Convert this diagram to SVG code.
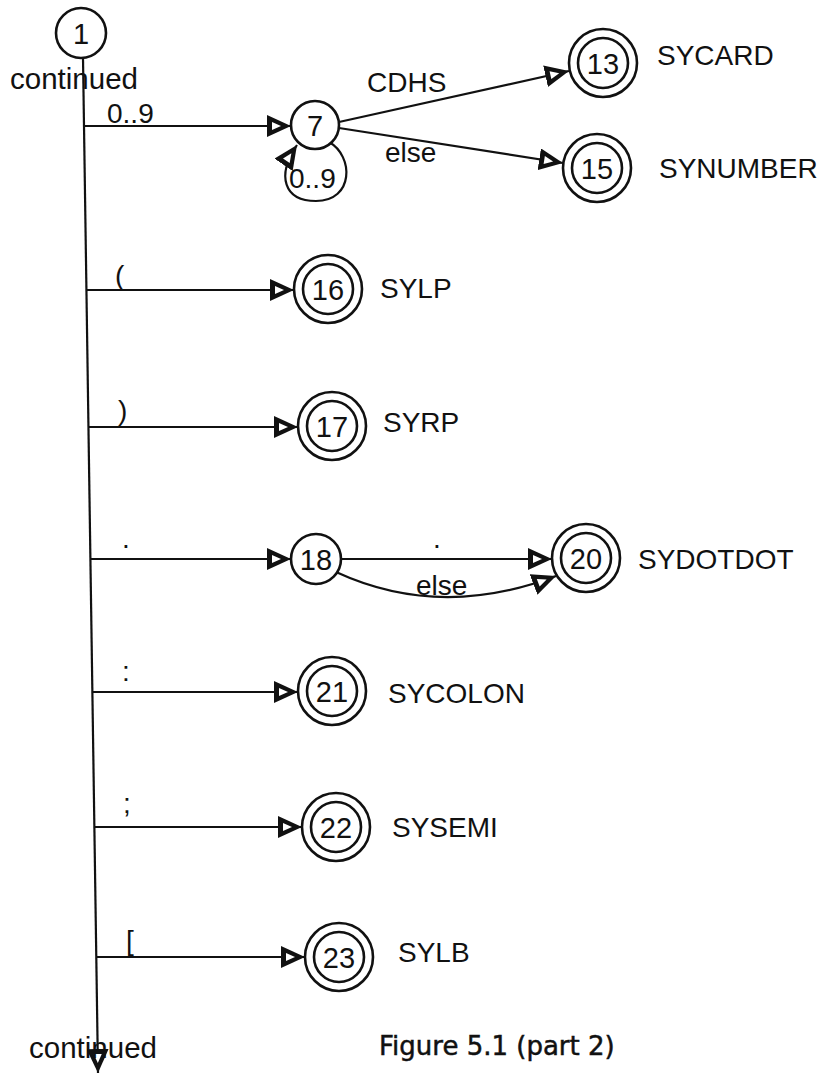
<svg xmlns="http://www.w3.org/2000/svg" width="823" height="1074" viewBox="0 0 823 1074">
<style>
.t{font-family:"Liberation Sans",Arial,sans-serif;font-size:28px;fill:#111}
.n{font-family:"Liberation Sans",Arial,sans-serif;font-size:29px;fill:#111;text-anchor:middle;dominant-baseline:central}
.c{fill:#fff;stroke:#111;stroke-width:2.6}
.e{fill:none;stroke:#111;stroke-width:2.2}
.cap{font-family:"DejaVu Sans",sans-serif;font-size:26px;fill:#111;stroke:#111;stroke-width:0.5}
</style>
<defs>
<marker id="arr" viewBox="0 0 24 22" refX="24" refY="11" markerWidth="24" markerHeight="22" markerUnits="userSpaceOnUse" orient="auto">
<path d="M0,0 L24,11 L0,22 Z" fill="#111"/>
<path d="M5,7 L14,11 L5,15 Z" fill="#fff"/>
</marker>
</defs>
<rect width="823" height="1074" fill="#fff"/>
<g id="connectors">
<line class="e" x1="83" y1="58" x2="98" y2="1073" marker-end="url(#arr)"/>
<line class="e" x1="84" y1="126" x2="291" y2="126" marker-end="url(#arr)"/>
<path class="e" d="M329,142 C354,156 354,201 316,201 C284,201 276,176 297,145" marker-end="url(#arr)"/>
<line class="e" x1="339" y1="122" x2="569" y2="71" marker-end="url(#arr)"/>
<line class="e" x1="339" y1="128" x2="563" y2="163" marker-end="url(#arr)"/>
<line class="e" x1="87" y1="290" x2="294" y2="290" marker-end="url(#arr)"/>
<line class="e" x1="89" y1="427" x2="298" y2="427" marker-end="url(#arr)"/>
<line class="e" x1="91" y1="559" x2="291" y2="559" marker-end="url(#arr)"/>
<line class="e" x1="341" y1="559" x2="552" y2="559" marker-end="url(#arr)"/>
<path class="e" d="M336,572 Q440,620 556,576" marker-end="url(#arr)"/>
<line class="e" x1="93" y1="692" x2="298" y2="692" marker-end="url(#arr)"/>
<line class="e" x1="95" y1="827" x2="302" y2="827" marker-end="url(#arr)"/>
<line class="e" x1="97" y1="957" x2="305" y2="957" marker-end="url(#arr)"/>
</g>
<g id="edge-labels">
<text class="t" x="107" y="123">0..9</text>
<text class="t" x="289" y="188">0..9</text>
<text class="t" x="367" y="92">CDHS</text>
<text class="t" x="385" y="162">else</text>
<text class="t" x="115" y="285">(</text>
<text class="t" x="118" y="420">)</text>
<text class="t" x="122" y="548">.</text>
<text class="t" x="433" y="548">.</text>
<text class="t" x="416" y="595">else</text>
<text class="t" x="122" y="681">:</text>
<text class="t" x="123" y="813">;</text>
<text class="t" x="126" y="950">[</text>
</g>
<g id="node1"><circle class="c" cx="81" cy="33" r="25"/><text class="n" x="81" y="34">1</text></g>
<text class="t" x="10" y="89" style="font-size:29.5px">continued</text>
<g id="node7"><circle class="c" cx="315" cy="125" r="24"/><text class="n" x="315" y="126">7</text></g>
<g id="node13"><circle class="c" cx="603" cy="63" r="34"/><circle class="c" cx="603" cy="63" r="25"/><text class="n" x="603" y="64">13</text><text class="t" x="657" y="65">SYCARD</text></g>
<g id="node15"><circle class="c" cx="597" cy="168" r="34"/><circle class="c" cx="597" cy="168" r="25"/><text class="n" x="597" y="169">15</text><text class="t" x="659" y="178">SYNUMBER</text></g>
<g id="node16"><circle class="c" cx="328" cy="289" r="34"/><circle class="c" cx="328" cy="289" r="25"/><text class="n" x="328" y="290">16</text><text class="t" x="380" y="298">SYLP</text></g>
<g id="node17"><circle class="c" cx="332" cy="426" r="34"/><circle class="c" cx="332" cy="426" r="25"/><text class="n" x="332" y="427">17</text><text class="t" x="383" y="432">SYRP</text></g>
<g id="node18"><circle class="c" cx="316" cy="559" r="25"/><text class="n" x="316" y="560">18</text></g>
<g id="node20"><circle class="c" cx="586" cy="558" r="34"/><circle class="c" cx="586" cy="558" r="25"/><text class="n" x="586" y="559">20</text><text class="t" x="638" y="569">SYDOTDOT</text></g>
<g id="node21"><circle class="c" cx="332" cy="691" r="34"/><circle class="c" cx="332" cy="691" r="25"/><text class="n" x="332" y="692">21</text><text class="t" x="388" y="703">SYCOLON</text></g>
<g id="node22"><circle class="c" cx="336" cy="827" r="34"/><circle class="c" cx="336" cy="827" r="25"/><text class="n" x="336" y="828">22</text><text class="t" x="392" y="837">SYSEMI</text></g>
<g id="node23"><circle class="c" cx="339" cy="957" r="34"/><circle class="c" cx="339" cy="957" r="25"/><text class="n" x="339" y="958">23</text><text class="t" x="398" y="962">SYLB</text></g>
<text class="t" x="29" y="1058" style="font-size:29.5px">continued</text>
<text class="cap" x="379" y="1055">Figure 5.1 (part 2)</text>
</svg>
